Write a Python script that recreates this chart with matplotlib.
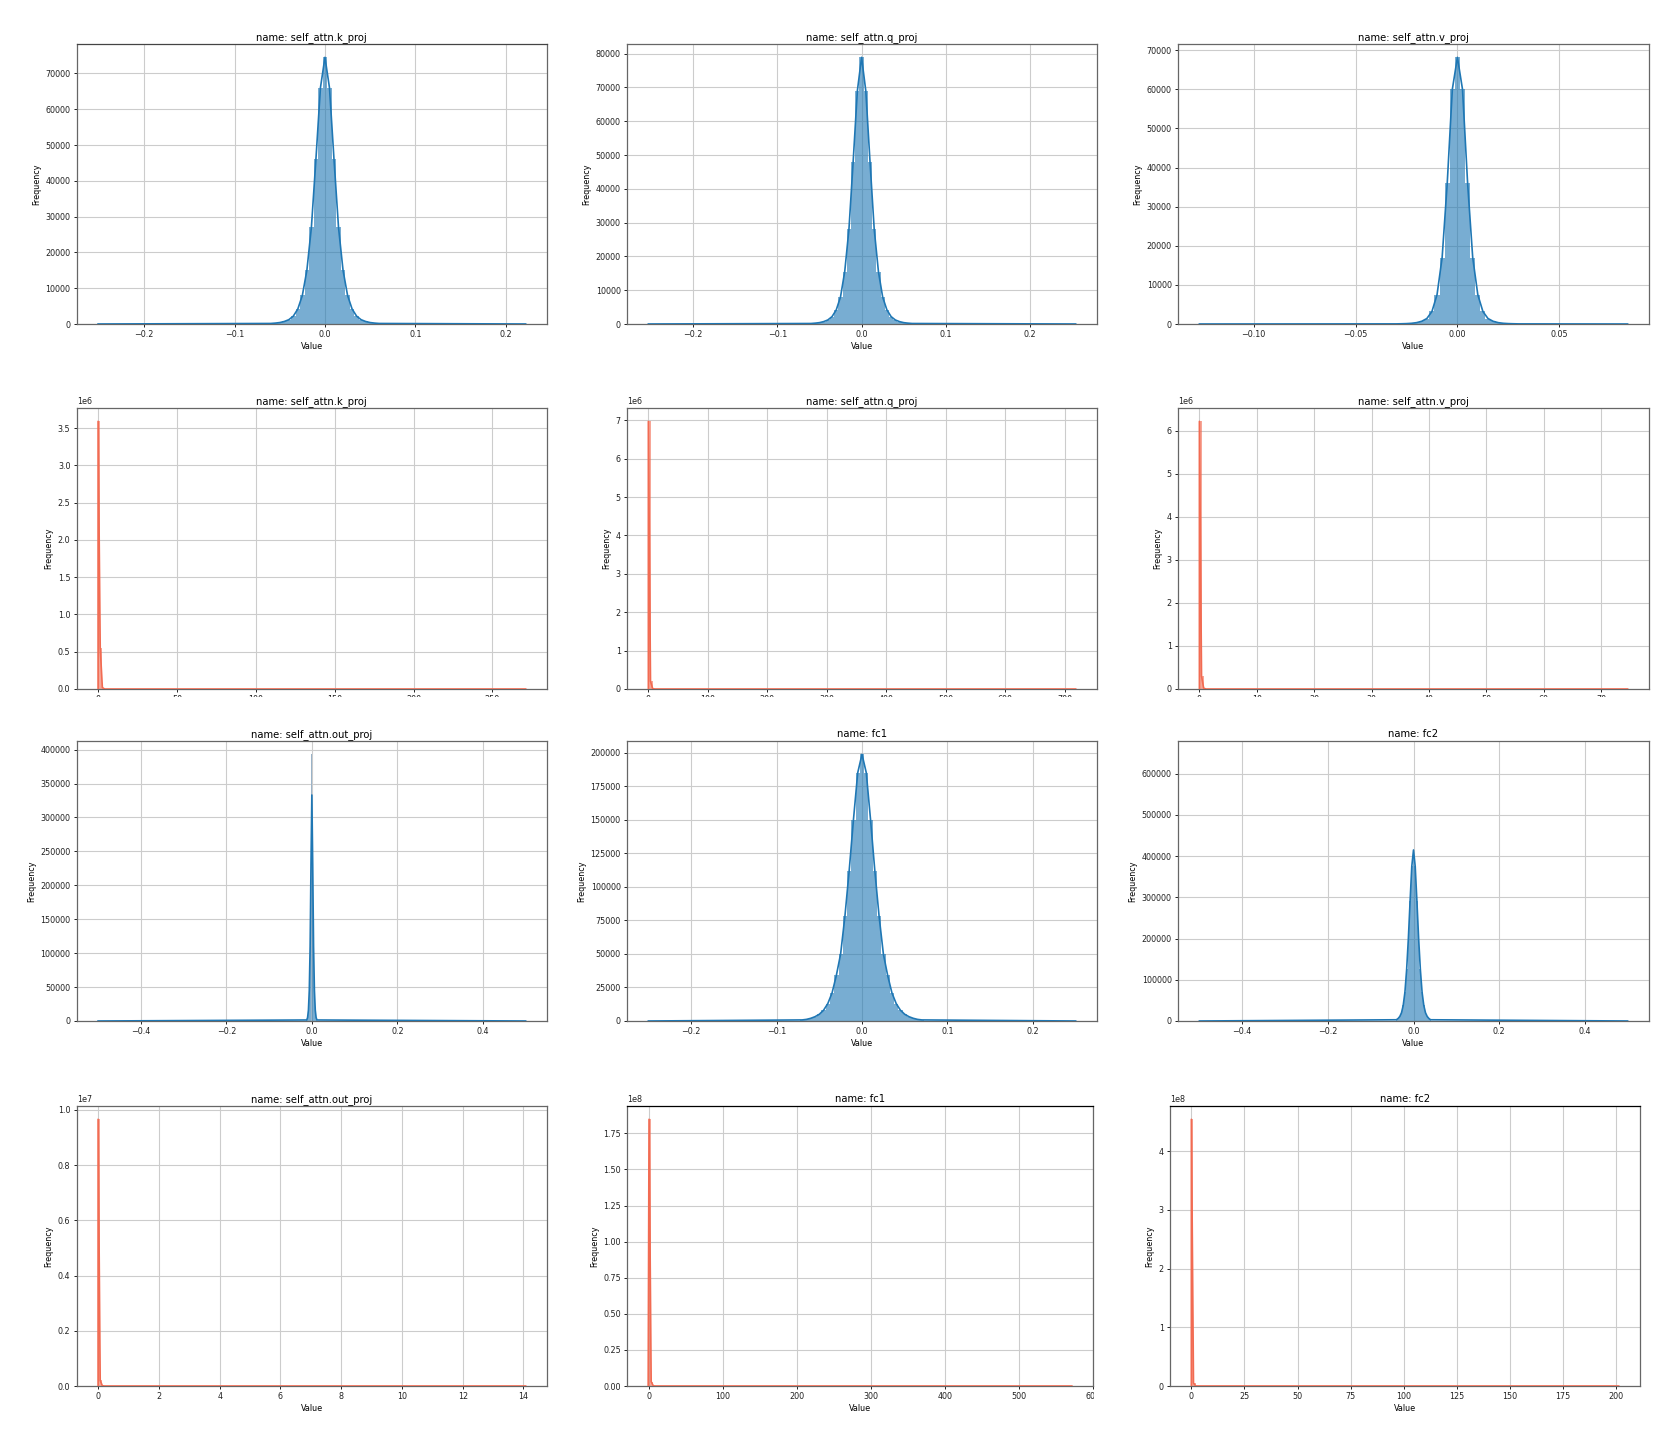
import matplotlib.pyplot as plt
from matplotlib.patches import Rectangle

# ---- data (bin centres / bin counts) ----
# row 1 : value histograms (blue)
kproj_x = [-0.06, -0.055, -0.05, -0.045, -0.04, -0.035, -0.03, -0.025, -0.02, -0.015, -0.01, -0.005, 0.0,
           0.005, 0.01, 0.015, 0.02, 0.025, 0.03, 0.035, 0.04, 0.045, 0.05, 0.055, 0.06]
kproj_n = [150, 250, 400, 700, 1200, 2200, 4200, 8000, 15000, 27000, 46000, 66000, 74500,
           66000, 46000, 27000, 15000, 8000, 4200, 2200, 1200, 700, 400, 250, 150]
kproj_range = (-0.251, 0.222)

qproj_x = kproj_x
qproj_n = [150, 250, 400, 700, 1200, 2200, 4200, 8000, 15500, 28000, 48000, 69000, 78900,
           69000, 48000, 28000, 15500, 8000, 4200, 2200, 1200, 700, 400, 250, 150]
qproj_range = (-0.253, 0.254)

vproj_x = [-0.03, -0.0275, -0.025, -0.0225, -0.02, -0.0175, -0.015, -0.0125, -0.01, -0.0075, -0.005, -0.0025, 0.0,
           0.0025, 0.005, 0.0075, 0.01, 0.0125, 0.015, 0.0175, 0.02, 0.0225, 0.025, 0.0275, 0.03]
vproj_n = [30, 60, 100, 180, 350, 700, 1400, 3200, 7500, 17000, 36000, 60000, 68200,
           60000, 36000, 17000, 7500, 3200, 1400, 700, 350, 180, 100, 60, 30]
vproj_range = (-0.1266, 0.0835)

# row 3 : value histograms (blue)
outproj_x = [-0.012, -0.01, -0.008, -0.006, -0.004, -0.002, 0.0, 0.002, 0.004, 0.006, 0.008, 0.01, 0.012]
outproj_n = [1500, 5000, 16000, 45000, 110000, 230000, 333000, 230000, 110000, 45000, 16000, 5000, 1500]
outproj_spike = 393000
outproj_range = (-0.5, 0.5)

fc1_x = [-0.07, -0.065, -0.06, -0.055, -0.05, -0.045, -0.04, -0.035, -0.03, -0.025, -0.02, -0.015, -0.01, -0.005, 0.0,
         0.005, 0.01, 0.015, 0.02, 0.025, 0.03, 0.035, 0.04, 0.045, 0.05, 0.055, 0.06, 0.065, 0.07]
fc1_n = [800, 1200, 2000, 3200, 5000, 8000, 13000, 21000, 34000, 50000, 78000, 112000, 150000, 185000, 198700,
         185000, 150000, 112000, 78000, 50000, 34000, 21000, 13000, 8000, 5000, 3200, 2000, 1200, 800]
fc1_range = (-0.25, 0.25)

fc2_x = [-0.04, -0.036, -0.032, -0.028, -0.024, -0.02, -0.016, -0.012, -0.008, -0.004, 0.0,
         0.004, 0.008, 0.012, 0.016, 0.02, 0.024, 0.028, 0.032, 0.036, 0.04]
fc2_n = [3000, 6000, 11000, 20000, 38000, 70000, 125000, 200000, 290000, 375000, 415000,
         375000, 290000, 200000, 125000, 70000, 38000, 20000, 11000, 6000, 3000]
fc2_hidden_bin = 647000
fc2_range = (-0.5, 0.5)

# rows 2 and 4 : spikes at zero (red), x = left bin edges
kproj2_x = [0.0, 1.36, 2.72]
kproj2_n = [3.59e6, 0.55e6, 0.02e6]
kproj2_range = (0.0, 271.0)

qproj2_x = [0.0, 3.6, 7.2]
qproj2_n = [6.97e6, 0.2e6, 0.01e6]
qproj2_range = (0.0, 718.0)

vproj2_x = [0.0, 0.37, 0.74]
vproj2_n = [6.22e6, 0.3e6, 0.02e6]
vproj2_range = (0.0, 74.6)

outproj4_x = [0.0, 0.07, 0.14]
outproj4_n = [9.66e6, 0.2e6, 0.01e6]
outproj4_range = (0.0, 14.07)

fc1_4_x = [0.0, 2.9, 5.8]
fc1_4_n = [1.847e8, 0.03e8, 0.001e8]
fc1_4_range = (-1.15, 571.8)

fc2_4_x = [0.0, 1.0, 2.0]
fc2_4_n = [4.545e8, 0.05e8, 0.001e8]
fc2_4_range = (0.0, 201.2)

BLUE = "#1f77b4"
RED = "#f26b52"
W, H = 1661, 1439
fig = plt.figure(figsize=(W / 100, H / 100), dpi=100)


def box(l, t, r, b):
    return [l / W, 1 - b / H, (r - l) / W, (b - t) / H]


def panel(rect, title, xs, ns, rng, color, step, edge=False):
    ax = fig.add_axes(box(*rect))
    if edge:
        edges = list(xs) + [xs[-1] + step]
        lx = [rng[0]] + list(xs) + [xs[-1] + step, rng[1]]
        ly = [0] + list(ns) + [0, 0]
    else:
        edges = [x - step / 2 for x in xs] + [xs[-1] + step / 2]
        lx = [rng[0]] + list(xs) + [rng[1]]
        ly = [0] + list(ns) + [0]
    ax.stairs(ns, edges, fill=True, color=color, alpha=0.6, lw=0, zorder=2)
    ax.plot(lx, ly, color=color, lw=1.2, zorder=3)
    ax.set_title(title, fontsize=7.2, pad=3)
    ax.set_xlabel("Value", fontsize=5.8, labelpad=2)
    ax.set_ylabel("Frequency", fontsize=5.8, labelpad=3)
    ax.tick_params(labelsize=5.8, length=2.5, width=0.7, pad=2, colors="#222222")
    ax.yaxis.get_offset_text().set_fontsize(5.8)
    ax.grid(True, color="#cccccc", lw=0.8)
    ax.set_axisbelow(True)
    for s in ax.spines.values():
        s.set_color("#666666")
        s.set_linewidth(0.9)
    return ax


cols = [(76.7, 547), (627, 1097), (1178, 1649)]
cols4 = [(76.7, 547), (627, 1093), (1170, 1640)]
rows = [(44, 324), (408, 689), (741, 1021), (1106, 1386)]


def rc(r, c, cc=cols):
    return (cc[c][0], rows[r][0], cc[c][1], rows[r][1])


ax = panel(rc(0, 0), "name: self_attn.k_proj", kproj_x, kproj_n, kproj_range, BLUE, 0.005)
ax.spines["top"].set_color("#444444")
panel(rc(0, 1), "name: self_attn.q_proj", qproj_x, qproj_n, qproj_range, BLUE, 0.005)
panel(rc(0, 2), "name: self_attn.v_proj", vproj_x, vproj_n, vproj_range, BLUE, 0.0025)

panel(rc(1, 0), "name: self_attn.k_proj", kproj2_x, kproj2_n, kproj2_range, RED, 1.36, edge=True)
panel(rc(1, 1), "name: self_attn.q_proj", qproj2_x, qproj2_n, qproj2_range, RED, 3.6, edge=True)
panel(rc(1, 2), "name: self_attn.v_proj", vproj2_x, vproj2_n, vproj2_range, RED, 0.37, edge=True)

ax = panel(rc(2, 0), "name: self_attn.out_proj", outproj_x, outproj_n, outproj_range, BLUE, 0.002)
ax.bar([0.0], [outproj_spike], width=0.002, color="#9ab3c8", linewidth=0, zorder=2)
panel(rc(2, 1), "name: fc1", fc1_x, fc1_n, fc1_range, BLUE, 0.005)
ax = panel(rc(2, 2), "name: fc2", fc2_x, fc2_n, fc2_range, BLUE, 0.004)
ax.set_ylim(0, fc2_hidden_bin * 1.05)

panel(rc(3, 0, cols4), "name: self_attn.out_proj", outproj4_x, outproj4_n, outproj4_range, RED, 0.07, edge=True)
ax = panel(rc(3, 1, cols4), "name: fc1", fc1_4_x, fc1_4_n, fc1_4_range, RED, 2.9, edge=True)
ax.spines["top"].set_color("black")
ax = panel(rc(3, 2, cols4), "name: fc2", fc2_4_x, fc2_4_n, fc2_4_range, RED, 1.0, edge=True)
ax.spines["top"].set_color("black")

# the row 2 tick labels are hidden behind row 3 in the original composite
fig.patches.append(Rectangle((0, 1 - 724 / H), 1, 27 / H, transform=fig.transFigure,
                             facecolor="white", edgecolor="none", zorder=10))
fig.patches.append(Rectangle((1094 / W, 1 - 1402 / H), 16 / W, 14 / H, transform=fig.transFigure,
                             facecolor="white", edgecolor="none", zorder=10))

fig.savefig("out.png", dpi=100, facecolor="white")
